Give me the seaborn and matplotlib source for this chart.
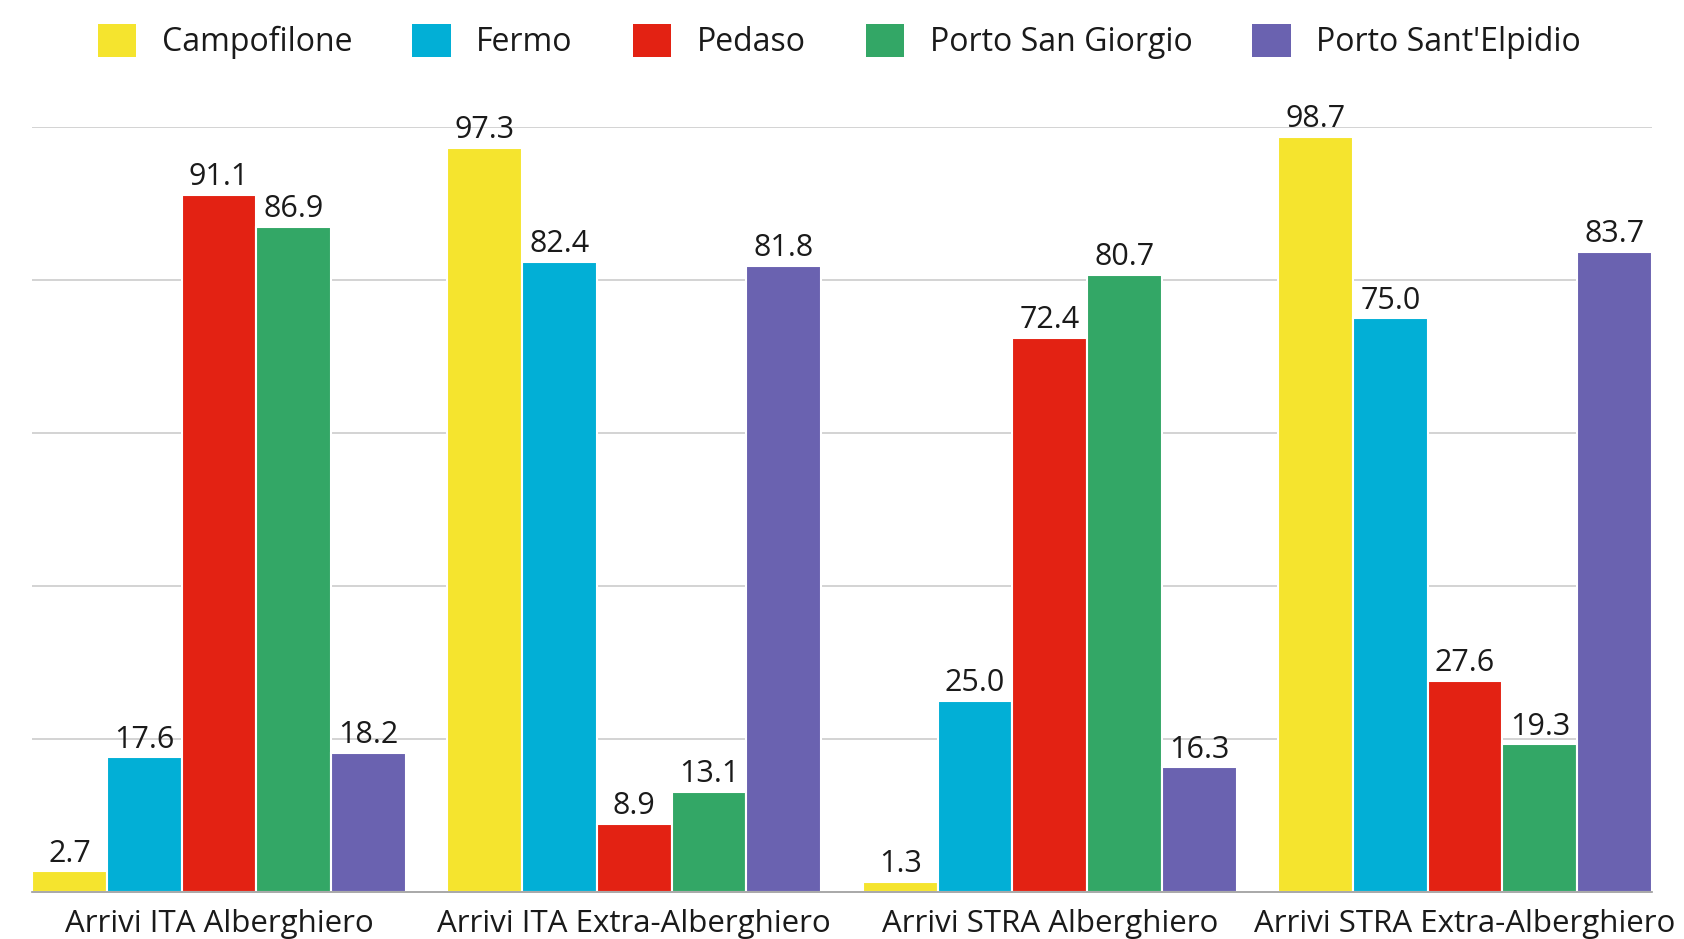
import numpy as np
import pandas as pd
import matplotlib
matplotlib.use("Agg")
import matplotlib.pyplot as plt
import seaborn as sns
from matplotlib.patches import Patch

categories = ["Arrivi ITA Alberghiero", "Arrivi ITA Extra-Alberghiero",
              "Arrivi STRA Alberghiero", "Arrivi STRA Extra-Alberghiero"]
cities = ["Campofilone", "Fermo", "Pedaso", "Porto San Giorgio", "Porto Sant'Elpidio"]

campofilone = [2.7, 97.3, 1.3, 98.7]
fermo = [17.6, 82.4, 25.0, 75.0]
pedaso = [91.1, 8.9, 72.4, 27.6]
porto_san_giorgio = [86.9, 13.1, 80.7, 19.3]
porto_sant_elpidio = [18.2, 81.8, 16.3, 83.7]

colors = ["#F5E42E", "#02AFD6", "#E32213", "#33A766", "#6A62B0"]

rows = []
for city, vals in zip(cities, [campofilone, fermo, pedaso, porto_san_giorgio, porto_sant_elpidio]):
    for cat, v in zip(categories, vals):
        rows.append({"cat": cat, "city": city, "val": v})
df = pd.DataFrame(rows)

sns.set_style("white")
plt.rcParams['font.family'] = ['Open Sans', 'DejaVu Sans']

fig = plt.figure(figsize=(16.84, 9.39), dpi=100)
ax = fig.add_axes([0.019, 0.050, 0.962, 0.8147])

sns.barplot(data=df, x="cat", y="val", hue="city", palette=colors, width=0.9,
            edgecolor="white", linewidth=1.5, ax=ax, legend=False, saturation=1)

for c in ax.containers:
    ax.bar_label(c, fmt="%.1f", padding=2, fontsize=22, color="#1a1a1a")

ax.set_xlim(-0.45, 3.45)
ax.set_ylim(0, 100)
ax.set_yticks([20, 40, 60, 80, 100])
ax.yaxis.grid(True, color="#cccccc", linewidth=1.2)
ax.set_axisbelow(True)
ax.tick_params(axis="y", left=False, labelleft=False)
ax.tick_params(axis="x", bottom=False, labelsize=22.5, pad=9, labelcolor="#1a1a1a")
ax.set_xlabel("")
ax.set_ylabel("")
for s in ["top", "left", "right"]:
    ax.spines[s].set_visible(False)
ax.spines["bottom"].set_color("#999999")
ax.spines["bottom"].set_linewidth(1.2)

handles = [Patch(facecolor=c, edgecolor="none") for c in colors]
fig.legend(handles, cities, loc="upper center", bbox_to_anchor=(0.4985, 1.0),
           ncol=5, frameon=False, fontsize=23, handlelength=1.2, handleheight=1.2,
           handletextpad=0.8, columnspacing=1.88, borderaxespad=0.35,
           labelcolor="#1a1a1a")

fig.savefig("out.png", dpi=100)
